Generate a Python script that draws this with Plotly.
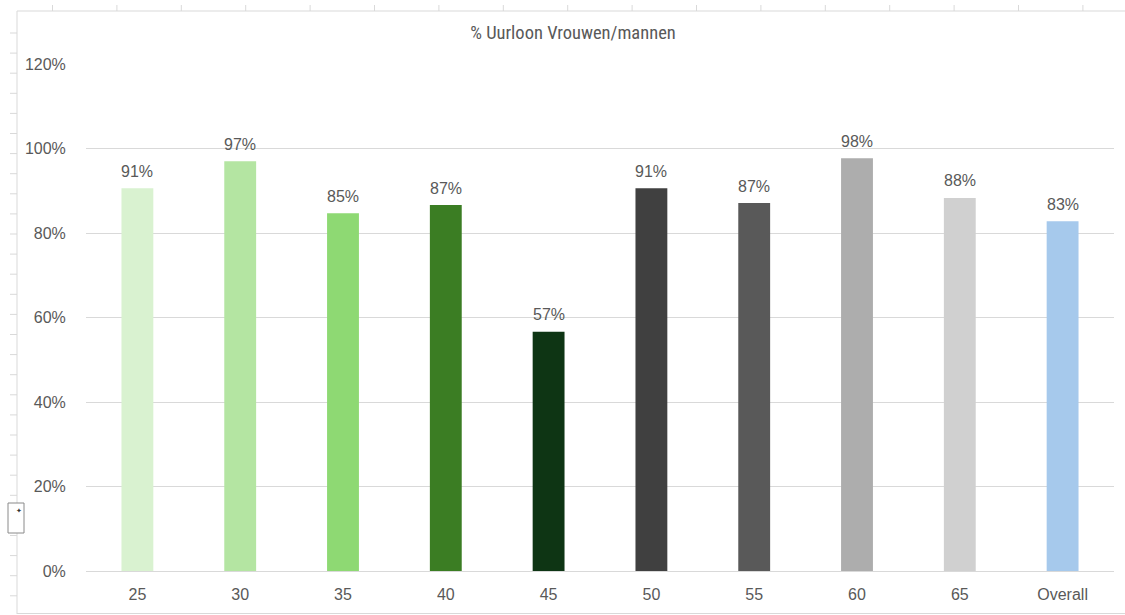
import plotly.graph_objects as go

# Hourly wage ratio women/men per age group
categories = ["25", "30", "35", "40", "45", "50", "55", "60", "65", "Overall"]
ratios = [0.906, 0.970, 0.847, 0.866, 0.566, 0.906, 0.871, 0.977, 0.883, 0.828]
bar_colors = ["#d9f2d0", "#b4e5a2", "#8ed973", "#3b7d23", "#0e3514",
              "#404040", "#595959", "#adadad", "#d0d0d0", "#a6c9ec"]

W, H = 1125, 615
L, R, T, B = 86, 11, 64, 44
PW, PH = W - L - R, H - T - B
label_font = "Liberation Sans, Arial, sans-serif"


def px(x):
    return (x - L) / PW


def py(y):
    return (H - B - y) / PH


fig = go.Figure(
    go.Bar(
        x=categories,
        y=ratios,
        marker=dict(color=bar_colors, line=dict(width=0)),
        hoverinfo="skip",
    )
)

# Value labels above each bar (category axis positions are indices)
for i, v in enumerate(ratios):
    fig.add_annotation(
        x=i, y=v, xref="x", yref="y", text=f"{v:.0%}", showarrow=False,
        yanchor="middle", yshift=17,
        font=dict(family=label_font, size=16, color="#595959"),
    )

# Spreadsheet cell grid peeking around the chart frame
shapes = []
grid_col = "#d9d9d9"
x = 52.5
while x < W:
    shapes.append(dict(type="line", xref="paper", yref="paper",
                       x0=px(x), x1=px(x), y0=py(5), y1=py(11),
                       line=dict(color=grid_col, width=1)))
    x += 64.4
y = 33
while y < H:
    shapes.append(dict(type="line", xref="paper", yref="paper",
                       x0=px(10), x1=px(17), y0=py(y), y1=py(y),
                       line=dict(color=grid_col, width=1)))
    y += 20.1
# Chart frame edges
for (x0, y0, x1, y1) in [(17, 11, W, 11), (17, 11, 17, 614), (17, 613.5, W, 613.5)]:
    shapes.append(dict(type="line", xref="paper", yref="paper",
                       x0=px(x0), x1=px(x1), y0=py(y0), y1=py(y1),
                       line=dict(color=grid_col, width=1)))
# Small floating button on the left edge
shapes.append(dict(type="rect", xref="paper", yref="paper",
                   x0=px(8), x1=px(24), y0=py(503), y1=py(533),
                   fillcolor="white", line=dict(color="#8a8a8a", width=1)))

fig.add_annotation(
    xref="paper", yref="paper", x=px(14), y=py(517),
    text="✦", showarrow=False,
    font=dict(family="DejaVu Sans", size=7, color="#333333"),
)

fig.update_layout(
    width=W,
    height=H,
    margin=dict(l=L, r=R, t=T, b=B),
    paper_bgcolor="white",
    plot_bgcolor="white",
    bargap=0.69,
    showlegend=False,
    title=dict(
        text="% Uurloon Vrouwen/mannen",
        x=573 / W,
        xanchor="center",
        y=1 - 33 / H,
        yanchor="middle",
        xref="container",
        yref="container",
        font=dict(family="Roboto Condensed, Roboto, sans-serif", size=18.5, color="#595959"),
    ),
    shapes=shapes,
    xaxis=dict(
        type="category",
        showgrid=False,
        showline=False,
        ticks="outside",
        ticklen=9,
        tickcolor="rgba(0,0,0,0)",
        tickfont=dict(family=label_font, size=16, color="#595959"),
        fixedrange=True,
    ),
    yaxis=dict(
        range=[0, 1.2],
        dtick=0.2,
        tickformat=".0%",
        showgrid=True,
        gridcolor="#d9d9d9",
        gridwidth=1,
        zeroline=True,
        zerolinecolor="#d9d9d9",
        zerolinewidth=1,
        showline=False,
        ticks="outside",
        ticklen=16,
        tickcolor="rgba(0,0,0,0)",
        tickfont=dict(family=label_font, size=16, color="#595959"),
        fixedrange=True,
    ),
)

fig.write_html("out.html")
